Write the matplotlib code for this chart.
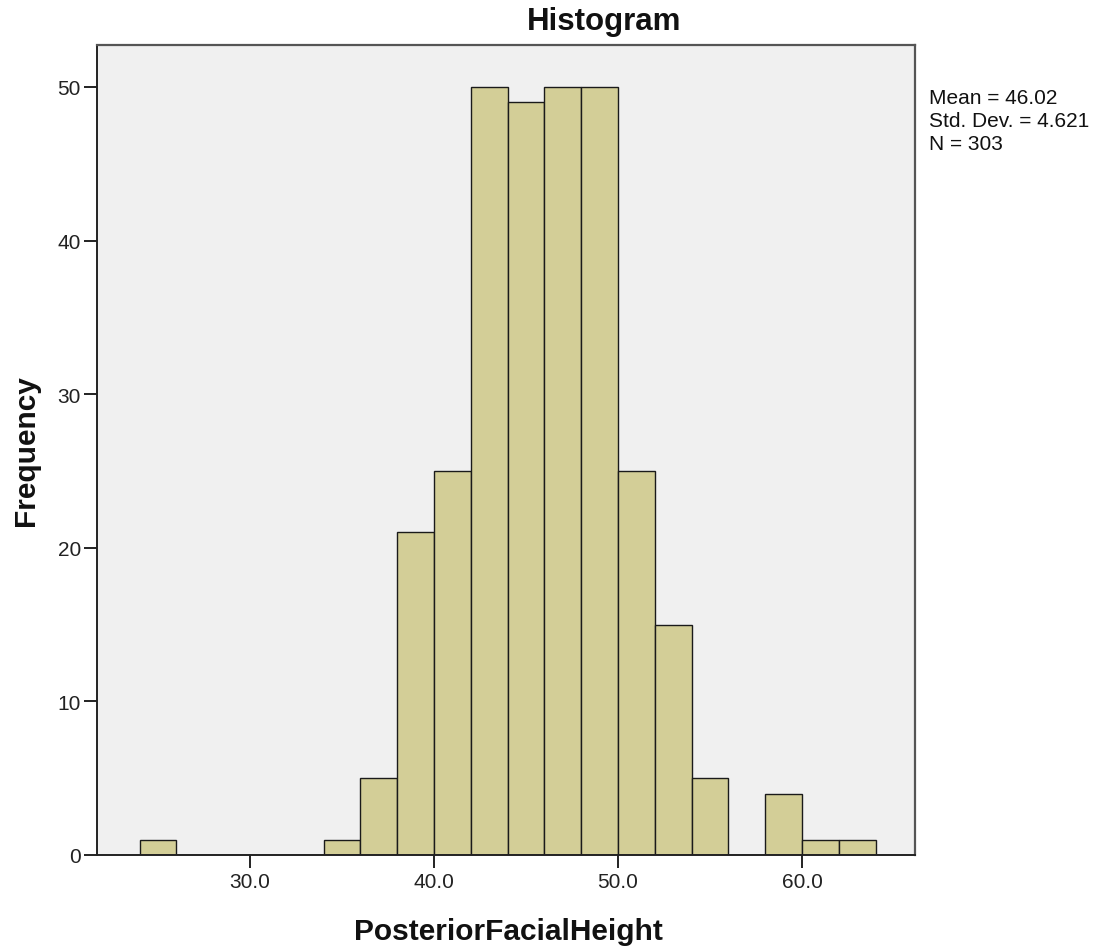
import matplotlib
matplotlib.use("Agg")
import matplotlib.pyplot as plt
import numpy as np

# Data
bin_edges = [24, 26, 28, 30, 32, 34, 36, 38, 40, 42, 44, 46, 48, 50, 52, 54, 56, 58, 60, 62, 64]
counts = [1, 0, 0, 0, 0, 1, 5, 21, 25, 50, 49, 50, 50, 25, 15, 5, 0, 4, 1, 1]
x_ticks = [30.0, 40.0, 50.0, 60.0]
x_tick_labels = ["30.0", "40.0", "50.0", "60.0"]
y_ticks = [0, 10, 20, 30, 40, 50]
stats_lines = ["Mean = 46.02", "Std. Dev. = 4.621", "N = 303"]

plt.rcParams['font.family'] = ['Liberation Sans', 'DejaVu Sans']

W, H = 1104, 953
fig = plt.figure(figsize=(W / 100, H / 100), dpi=100)
fig.patch.set_facecolor("white")
ax = fig.add_axes([97 / W, 1 - 856 / H, (915 - 97) / W, (856 - 46) / H])
ax.set_facecolor("#F0F0F0")

lefts = bin_edges[:-1]
ax.hist(lefts, bins=bin_edges, weights=counts, color="#D3CE97",
        edgecolor="#1a1a1a", linewidth=1.0)

ax.set_xlim(21.68, 66.14)
ax.set_ylim(0, 52.73)
ax.set_xticks(x_ticks)
ax.set_xticklabels(x_tick_labels)
ax.set_yticks(y_ticks)
ax.tick_params(axis='both', direction='out', length=9.5, width=1.4, labelsize=15,
               color="#222222", labelcolor="#222222")
ax.tick_params(axis='y', pad=2)
ax.tick_params(axis='x', pad=3)

for s in ["left", "bottom"]:
    ax.spines[s].set_color("#222222")
    ax.spines[s].set_linewidth(1.4)
for s in ["top", "right"]:
    ax.spines[s].set_color("#555555")
    ax.spines[s].set_linewidth(1.6)

fig.text(604 / W, 1 - 22 / H, "Histogram", ha="center", va="center",
         fontsize=22.5, fontweight="bold", color="#111111")
fig.text(508 / W, 1 - 932 / H, "PosteriorFacialHeight", ha="center", va="center",
         fontsize=21.5, fontweight="bold", color="#111111")
fig.text(26 / W, 1 - 451 / H, "Frequency", ha="center", va="center", rotation=90,
         fontsize=21.5, fontweight="bold", color="#111111")

for i, line in enumerate(stats_lines):
    fig.text(929 / W, 1 - (99 + 22.5 * i) / H, line, ha="left", va="center",
             fontsize=15, color="#111111")

fig.savefig("out.png", dpi=100)
